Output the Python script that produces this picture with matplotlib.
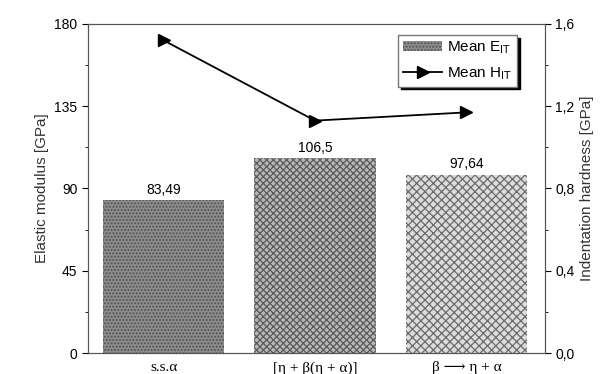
import matplotlib.pyplot as plt
import numpy as np

plt.rcParams['font.family'] = ['Liberation Sans', 'DejaVu Sans']
plt.rcParams['hatch.linewidth'] = 0.9

# data
phases = ['s.s.α', '[η + β(η + α)]', 'β ⟶ η + α']
modulus = [83.49, 106.5, 97.64]
modulus_labels = ['83,49', '106,5', '97,64']
hardness = [1.52, 1.13, 1.17]

x = np.arange(len(phases))

fig = plt.figure(figsize=(6.09, 3.74), dpi=100)
ax = fig.add_axes([0.1445, 0.056, 0.7505, 0.88])
ax2 = ax.twinx()

hatches = ['.....', 'xxxxx', 'xxxx']
faces = ['#8c8c8c', '#b8b8b8', '#dcdcdc']
edges = ['#505050', '#5a5a5a', '#6a6a6a']
bars = []
for i in range(len(phases)):
    b = ax.bar(x[i], modulus[i], 0.8, color=faces[i], hatch=hatches[i],
               edgecolor=edges[i], linewidth=0)
    bars.append(b)
    ax.text(x[i], modulus[i] + 2, modulus_labels[i], ha='center', va='bottom',
            fontsize=10)

line, = ax2.plot(x, hardness, color='black', marker='>', markersize=9, lw=1.3)

ax.set_xlim(-0.5, 2.52)
ax.set_ylim(0, 180)
ax2.set_ylim(0, 1.6)
ax.set_yticks([0, 45, 90, 135, 180])
ax.set_yticks([22.5, 67.5, 112.5, 157.5], minor=True)
ax2.set_yticks([0, 0.4, 0.8, 1.2, 1.6])
ax2.set_yticks([0.2, 0.6, 1.0, 1.4], minor=True)
ax2.set_yticklabels(['0,0', '0,4', '0,8', '1,2', '1,6'])
ax.set_xticks(x)
ax.set_xticklabels(phases, family=['Liberation Serif', 'DejaVu Serif'], fontsize=11)
ax.tick_params(axis='x', length=0, pad=6)
ax.tick_params(axis='y', labelsize=10, length=4)
ax2.tick_params(axis='y', labelsize=10, length=4)
ax.tick_params(which='minor', length=2.5)
ax2.tick_params(which='minor', length=2.5)
ax.set_ylabel('Elastic modulus [GPa]', fontsize=11, color='#333333')
ax2.set_ylabel('Indentation hardness [GPa]', fontsize=11, color='#333333')

for a in (ax, ax2):
    for s in a.spines.values():
        s.set_color('#555555')

leg = ax2.legend([bars[0], line], ['Mean E$_{\\mathrm{IT}}$', 'Mean H$_{\\mathrm{IT}}$'],
                 loc='upper right', bbox_to_anchor=(0.955, 0.99), fontsize=11,
                 fancybox=False, shadow={'color': 'black', 'alpha': 1},
                 framealpha=1, edgecolor='#777777', handlelength=2.6,
                 borderpad=0.3, labelspacing=0.6, handletextpad=0.3)

plt.savefig('out.png', dpi=100)
